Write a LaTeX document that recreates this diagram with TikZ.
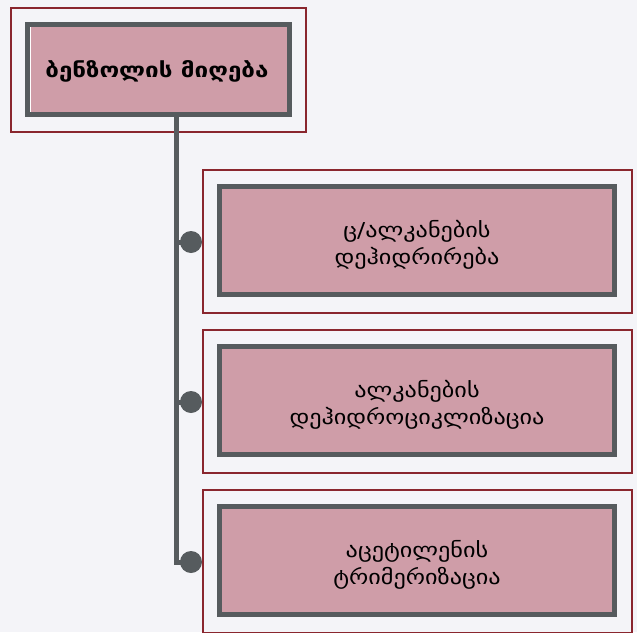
\documentclass[tikz,border=0pt]{standalone}
\usepackage{fontspec}
\newfontfamily\geofont[FakeStretch=1.18]{DejaVu Sans}
\usetikzlibrary{positioning}
\definecolor{pagebg}{HTML}{F4F4F8}
\definecolor{framered}{HTML}{8A262E}
\definecolor{framegray}{HTML}{565B5E}
\definecolor{boxpink}{HTML}{CF9DA8}

\begin{document}
\begin{tikzpicture}[x=1pt,y=-1pt,
  redframe/.style={draw=framered, line width=2.8pt, inner sep=0pt},
  grayframe/.style={draw=framegray, line width=5pt, fill=white, inner sep=0pt},
  pinkbox/.style={fill=boxpink, inner sep=0pt},
  itemtext/.style={inner sep=0pt, align=center,
    font=\geofont\fontsize{20.5}{27}\selectfont},
  knob/.style={circle, fill=framegray, minimum size=22pt, inner sep=0pt},
  trunk/.style={draw=framegray, line width=5pt}]
\fill[pagebg] (0,0) rectangle (637,632);
\useasboundingbox (0,0) rectangle (637,632);

% top node
\node[redframe, minimum width=295pt, minimum height=124pt] (topout) at (158.5,70) {};
\node[grayframe, minimum width=262pt, minimum height=90pt] (topgray) at (158.5,69.5) {};
\node[pinkbox, minimum width=256pt, minimum height=85pt] (toppink) at (158.5,69.5) {};
\node[itemtext, font=\geofont\bfseries\fontsize{20.5}{24}\selectfont] (top) at (157,71) {ბენზოლის მიღება};

% three items
\node[redframe, minimum width=429pt, minimum height=143pt] (out1) at (417.5,241.5) {};
\node[grayframe, minimum width=395pt, minimum height=108pt] (gray1) at (417,240.5) {};
\node[pinkbox, minimum width=390pt, minimum height=103pt] (pink1) at (417,240.5) {};
\node[itemtext] (item1) at (417,245) {ც/ალკანების\\დეჰიდრირება};

\node[redframe, minimum width=429pt, minimum height=143pt] (out2) at (417.5,401.5) {};
\node[grayframe, minimum width=395pt, minimum height=108pt] (gray2) at (417,400.5) {};
\node[pinkbox, minimum width=390pt, minimum height=103pt] (pink2) at (417,400.5) {};
\node[itemtext] (item2) at (417,405) {ალკანების\\დეჰიდროციკლიზაცია};

\node[redframe, minimum width=429pt, minimum height=143pt] (out3) at (417.5,561.5) {};
\node[grayframe, minimum width=395pt, minimum height=108pt] (gray3) at (417,560.5) {};
\node[pinkbox, minimum width=390pt, minimum height=103pt] (pink3) at (417,560.5) {};
\node[itemtext] (item3) at (417,565) {აცეტილენის\\ტრიმერიზაცია};

% knobs and trunk
\node[knob] (k1) at (191,242) {};
\node[knob] (k2) at (191,402) {};
\node[knob] (k3) at (191,562) {};
\coordinate (root) at (176,112);

\path[trunk] (root) |- (k3.center)
             (root |- k1) -- (k1.center)
             (root |- k2) -- (k2.center);
\end{tikzpicture}
\end{document}
